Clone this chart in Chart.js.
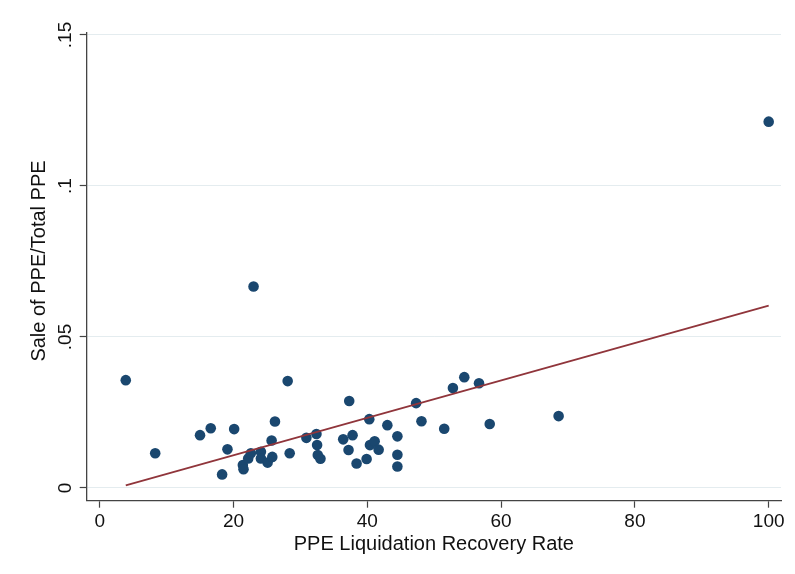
<!DOCTYPE html>
<html>
<head>
<meta charset="utf-8">
<script src="https://cdn.jsdelivr.net/npm/chart.js@4"></script>
<style>
	html, body {
		margin: 0;
		padding: 0;
		background: #ffffff;
	}
	#wrap {
		width: 795px;
		height: 574px;
	}
</style>
</head>
<body>
<div id="wrap"><canvas id="myChart" width="795" height="574"></canvas></div>
<script>
// recovery rate (x) and sale of PPE / total PPE (y), one entry per industry
var recoveryRate = [3.9, 8.3, 15.0, 16.6, 18.3, 19.1, 20.1, 21.4, 21.5, 22.2, 22.6, 23.0, 24.1, 24.1, 25.1, 25.7, 25.8, 26.2, 28.1, 28.4, 30.9, 32.4, 32.5, 32.6, 33.0, 36.4, 37.2, 37.3, 37.8, 38.4, 39.9, 40.3, 40.4, 41.1, 41.7, 43.0, 44.5, 44.5, 44.5, 47.3, 48.1, 51.5, 52.8, 54.5, 56.7, 58.3, 68.6, 100];
var saleShare = [0.0357, 0.0115, 0.0175, 0.0198, 0.0045, 0.0128, 0.0195, 0.0076, 0.0062, 0.0098, 0.0115, 0.0667, 0.0120, 0.0098, 0.0084, 0.0157, 0.0103, 0.0220, 0.0354, 0.0115, 0.0166, 0.0179, 0.0142, 0.0109, 0.0097, 0.0161, 0.0126, 0.0288, 0.0175, 0.0081, 0.0096, 0.0228, 0.0142, 0.0155, 0.0127, 0.0208, 0.0171, 0.0110, 0.0071, 0.0281, 0.0221, 0.0196, 0.0331, 0.0367, 0.0347, 0.0212, 0.0238, 0.1213];

// linear fit end points
var fitX = [3.9, 100];
var fitY = [0.0009, 0.0604];

var xTicks = [0, 20, 40, 60, 80, 100];
var yTicks = [0, 0.05, 0.1, 0.15];
var yTickLabels = ["0", ".05", ".1", ".15"];

var navy = "#1a476f";
var maroon = "#90353b";
var axisColor = "#444444";
var gridColor = "#e4ecef";
var fontFamily = "'Liberation Sans', Arial, Helvetica, sans-serif";

function toPoints(xs, ys) {
	var pts = [];
	for (var i = 0; i < xs.length; i++) {
		pts.push({ x: xs[i], y: ys[i] });
	}
	return pts;
}

// rotated y tick labels and y title, Stata style
var yLabels = {
	id: "yLabels",
	afterDraw: function (chart) {
		var ctx = chart.ctx;
		var scale = chart.scales.y;
		ctx.save();
		ctx.fillStyle = "#111111";
		ctx.textAlign = "center";
		ctx.textBaseline = "alphabetic";
		ctx.font = "19px " + fontFamily;
		yTicks.forEach(function (v, i) {
			var py = scale.getPixelForValue(v);
			ctx.save();
			ctx.translate(71, py);
			ctx.rotate(-Math.PI / 2);
			ctx.fillText(yTickLabels[i], 0, 0);
			ctx.restore();
		});
		ctx.font = "20px " + fontFamily;
		ctx.translate(45, 261);
		ctx.rotate(-Math.PI / 2);
		ctx.fillText("Sale of PPE/Total PPE", 0, 0);
		ctx.restore();
	}
};

var ctx = document.getElementById("myChart").getContext("2d");
var chart = new Chart(ctx, {
	type: "scatter",
	data: {
		datasets: [
			{
				type: "line",
				data: toPoints(fitX, fitY),
				borderColor: maroon,
				borderWidth: 1.8,
				pointRadius: 0,
				fill: false,
				order: 0
			},
			{
				data: toPoints(recoveryRate, saleShare),
				backgroundColor: navy,
				borderWidth: 0,
				pointRadius: 5.3,
				order: 1
			}
		]
	},
	options: {
		responsive: false,
		animation: false,
		devicePixelRatio: 1,
		layout: {
			padding: { top: 33, right: 14, bottom: 0, left: 0 }
		},
		plugins: {
			legend: { display: false },
			tooltip: { enabled: false }
		},
		scales: {
			x: {
				type: "linear",
				min: -1.94,
				max: 101.84,
				afterBuildTicks: function (scale) {
					scale.ticks = xTicks.map(function (v) { return { value: v }; });
				},
				afterFit: function (scale) {
					scale.height = 73.3;
				},
				border: { display: true, color: axisColor, width: 1.3 },
				grid: {
					drawOnChartArea: false,
					drawTicks: true,
					tickLength: 7,
					tickColor: axisColor,
					tickWidth: 1.2
				},
				ticks: {
					color: "#111111",
					padding: 3,
					maxRotation: 0,
					font: { family: fontFamily, size: 19 }
				},
				title: {
					display: true,
					text: "PPE Liquidation Recovery Rate",
					color: "#111111",
					padding: { top: 0, bottom: 18 },
					font: { family: fontFamily, size: 20 }
				}
			},
			y: {
				type: "linear",
				min: -0.00421,
				max: 0.15066,
				afterBuildTicks: function (scale) {
					scale.ticks = yTicks.map(function (v) { return { value: v }; });
				},
				afterFit: function (scale) {
					scale.width = 86.7;
				},
				border: { display: true, color: axisColor, width: 1.3 },
				grid: {
					color: gridColor,
					lineWidth: 1,
					drawTicks: true,
					tickLength: 7,
					tickColor: axisColor,
					tickWidth: 1.2
				},
				ticks: {
					display: false
				}
			}
		}
	},
	plugins: [yLabels]
});
</script>
</body>
</html>
